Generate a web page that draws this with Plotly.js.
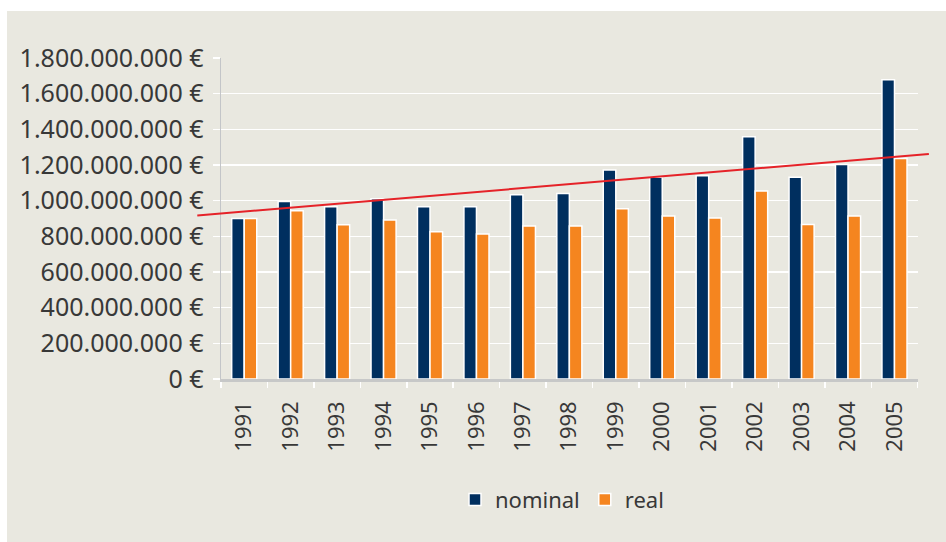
<!DOCTYPE html>
<html>
<head>
<meta charset="utf-8">
<script src="https://cdn.plot.ly/plotly-3.0.1.min.js"></script>
<style>
  html, body { margin: 0; padding: 0; background: #ffffff; }
  #chart { position: absolute; left: 7px; top: 11px; width: 939px; height: 531px; background: #e9e8e0; }
</style>
</head>
<body>
<div id="chart"></div>
<script>
// Data
const years = ['1991','1992','1993','1994','1995','1996','1997','1998','1999','2000','2001','2002','2003','2004','2005'];
const nominal = [900e6, 996e6, 966e6, 1011e6, 966e6, 966e6, 1033e6, 1040e6, 1172e6, 1131e6, 1140e6, 1359e6, 1131e6, 1203e6, 1678e6];
const real    = [900e6, 944e6, 865e6, 891e6, 826e6, 813e6, 858e6, 858e6, 955e6, 914e6, 903e6, 1054e6, 867e6, 914e6, 1237e6];
// Trend line end points (year position, value)
const trendYears  = [1989.99, 2005.74];
const trendValues = [917e6, 1262e6];
const seriesNames = ['nominal', 'real'];

const navy = '#002f5f';
const orange = '#f5851f';
const red = '#e52228';
const bg = '#e9e8e0';
const textColor = '#383838';
const fontFamily = '"Noto Sans", "Open Sans", sans-serif';

const traces = [
  {
    type: 'bar', name: seriesNames[0], x: years, y: nominal,
    marker: { color: navy, line: { color: '#ffffff', width: 1.5 } },
    xaxis: 'x', yaxis: 'y', hoverinfo: 'skip'
  },
  {
    type: 'bar', name: seriesNames[1], x: years, y: real,
    marker: { color: orange, line: { color: '#ffffff', width: 1.5 } },
    xaxis: 'x', yaxis: 'y', hoverinfo: 'skip'
  },
  {
    type: 'scatter', mode: 'lines', x: trendYears, y: trendValues,
    line: { color: red, width: 2 }, showlegend: false,
    xaxis: 'x2', yaxis: 'y2', hoverinfo: 'skip'
  }
];

// plot-area geometry (div coordinates)
const L = 189, R = 16, W = 939;
const inner = W - L - R;           // 734
const barLeft = 214, barRight = 910.7;
const perCat = (barRight - barLeft) / years.length;
const x2min = 1990.5 - (barLeft - L) / perCat;
const x2max = 2005.5 + ((W - R) - barRight) / perCat;

const layout = {
  width: 939, height: 531,
  margin: { l: L, r: R, t: 47, b: 163, pad: 0 },
  paper_bgcolor: bg, plot_bgcolor: 'rgba(0,0,0,0)',
  separators: ',.',
  barmode: 'group', bargap: 0.46, bargroupgap: 0,
  font: { family: fontFamily, color: textColor },
  showlegend: true,
  legend: {
    orientation: 'h', x: (555 - L) / inner, xanchor: 'center',
    y: -0.376, yanchor: 'middle',
    font: { size: 22, color: textColor, family: fontFamily },
    bgcolor: 'rgba(0,0,0,0)', itemwidth: 30, traceorder: 'normal'
  },
  xaxis: {
    type: 'category',
    domain: [(barLeft - L) / inner, (barRight - L) / inner],
    anchor: 'y',
    showgrid: false, zeroline: false,
    showline: true, linecolor: '#c7c8c8', linewidth: 2.5,
    ticks: 'outside', tickson: 'boundaries', ticklen: 6, tickcolor: '#ffffff', tickwidth: 1.5,
    tickangle: -90, tickfont: { size: 22, color: textColor, family: fontFamily },
    ticklabelstandoff: 11,
    fixedrange: true
  },
  yaxis: {
    range: [0, 1.8e9], dtick: 200e6, tick0: 0,
    tickformat: ',.0f', ticksuffix: ' €',
    showgrid: true, gridcolor: '#ffffff', gridwidth: 1.2,
    zeroline: false,
    showline: true, linecolor: '#c3c5c8', linewidth: 1.5,
    ticks: 'outside', ticklen: 7, tickcolor: '#ffffff', tickwidth: 1.5,
    tickfont: { size: 25, color: textColor, family: fontFamily },
    ticklabelstandoff: 4,
    fixedrange: true
  },
  xaxis2: {
    domain: [0, 1], anchor: 'y2', range: [x2min, x2max],
    visible: false, showgrid: false, zeroline: false, fixedrange: true
  },
  yaxis2: {
    domain: [0, 1], anchor: 'x2', range: [0, 1.8e9],
    visible: false, showgrid: false, zeroline: false, fixedrange: true
  }
};

Plotly.newPlot('chart', traces, layout, { displayModeBar: false, staticPlot: true });
</script>
</body>
</html>
